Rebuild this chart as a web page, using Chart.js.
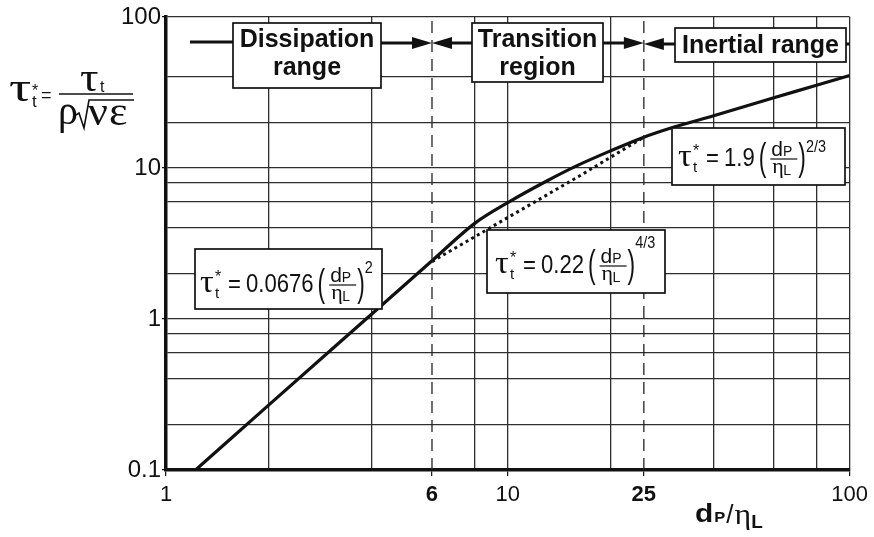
<!DOCTYPE html>
<html>
<head>
<meta charset="utf-8">
<script src="https://cdn.jsdelivr.net/npm/chart.js@4.4.0/dist/chart.umd.min.js"></script>
<style>
  html, body { margin: 0; padding: 0; background: #fff; }
</style>
</head>
<body>
<canvas id="chart" width="874" height="537"></canvas>
<script>
// values
const curveX = [1.22, 2, 4, 6, 8, 10, 13, 16, 20, 25, 30, 40, 60, 80, 100];
const curveY = [0.1, 0.27, 1.08, 2.43, 4.3, 5.9, 8.2, 10.4, 13.0, 16.0, 18.4, 22.2, 29.2, 35.3, 41];
const dotX = [6, 10, 16, 25];
const dotY = [2.4, 4.7, 8.7, 16.0];
const boundX = [6, 25];          // dashed range limits
const xTicks = [1, 2, 4, 6, 8, 10, 20, 25, 40, 60, 80, 100];
const xLabels = { 1: '1', 6: '6', 10: '10', 25: '25', 100: '100' };
const yTicks = [0.1, 0.2, 0.4, 0.6, 0.8, 1, 2, 4, 6, 8, 10, 20, 40, 100];
const yLabels = { 0.1: '0.1', 1: '1', 10: '10', 100: '100' };

const INK = '#111';
const GRID = '#2e2e2e';
const SANS = '"Liberation Sans", Arial, sans-serif';
const SERIF = '"Liberation Serif", "Times New Roman", serif';

function pts(xs, ys) {
    return xs.map((x, i) => ({ x: x, y: ys[i] }));
}

// text with optional horizontal squeeze, returns advance width
function put(ctx, s, x, y, font, sx) {
    sx = sx || 1;
    ctx.save();
    ctx.font = font;
    ctx.textAlign = 'left';
    ctx.translate(x, y);
    ctx.scale(sx, 1);
    ctx.fillText(s, 0, 0);
    const w = ctx.measureText(s).width * sx;
    ctx.restore();
    return w;
}

function box(ctx, x, y, w, h) {
    ctx.save();
    ctx.fillStyle = '#fff';
    ctx.fillRect(x, y, w, h);
    ctx.lineWidth = 1.7;
    ctx.strokeStyle = INK;
    ctx.strokeRect(x, y, w, h);
    ctx.restore();
}

function hline(ctx, x1, x2, y) {
    ctx.beginPath();
    ctx.moveTo(x1, y);
    ctx.lineTo(x2, y);
    ctx.stroke();
}

function arrow(ctx, x1, tip, y) {
    const dir = Math.sign(tip - x1);
    hline(ctx, x1, tip - dir * 15, y);
    ctx.beginPath();
    ctx.moveTo(tip, y);
    ctx.lineTo(tip - dir * 20, y - 6);
    ctx.lineTo(tip - dir * 20, y + 6);
    ctx.closePath();
    ctx.fill();
}

// tau*_t = coef (dP/etaL)^exp
function formula(ctx, x0, base, coef, exp, expUp) {
    put(ctx, 'τ', x0, base, '31px ' + SERIF, 1.1);
    put(ctx, '*', x0 + 15, base - 10, '16px ' + SANS);
    put(ctx, 't', x0 + 15, base + 6, '15px ' + SANS);
    put(ctx, '=', x0 + 28, base, '26px ' + SANS, 0.85);
    let cx = x0 + 46;
    cx += put(ctx, coef, cx, base, '26px ' + SANS, 0.85) + 4;
    const bar = base - 7;
    cx += put(ctx, '(', cx, bar + 11, '38px ' + SANS, 0.6) + 1;
    // fraction
    ctx.save();
    ctx.font = '21px ' + SANS;
    const wd = ctx.measureText('d').width;
    ctx.restore();
    const fw = 30;
    put(ctx, 'd', cx + 4, bar - 3, '21px ' + SANS);
    put(ctx, 'P', cx + 4 + wd, bar - 3, '14px ' + SANS);
    put(ctx, 'η', cx + 5, bar + 14, '22px ' + SERIF);
    put(ctx, 'L', cx + 16, bar + 16, '14px ' + SANS);
    ctx.save();
    ctx.lineWidth = 1.2;
    hline(ctx, cx + 3, cx + fw, bar);
    ctx.restore();
    cx += fw + 1;
    cx += put(ctx, ')', cx, bar + 11, '38px ' + SANS, 0.6);
    put(ctx, exp, cx, base - expUp, '16px ' + SANS, 0.9);
}

const annotations = {
    id: 'annotations',
    afterDatasetsDraw(chart) {
        const ctx = chart.ctx;
        const xs = chart.scales.x;
        const x6 = xs.getPixelForValue(boundX[0]);
        const x25 = xs.getPixelForValue(boundX[1]);
        ctx.save();
        ctx.fillStyle = INK;
        ctx.strokeStyle = INK;
        ctx.textBaseline = 'alphabetic';

        // range arrows
        ctx.lineWidth = 3;
        hline(ctx, 190, 233, 42);
        arrow(ctx, 381, x6, 43);
        arrow(ctx, 472, x6, 43);
        arrow(ctx, 603, x25, 43);
        arrow(ctx, 675, x25, 44);
        hline(ctx, 846, chart.chartArea.right, 44);

        // range boxes
        ctx.textAlign = 'center';
        ctx.font = 'bold 25px ' + SANS;
        box(ctx, 233, 23, 148, 65);
        ctx.fillStyle = INK;
        ctx.fillText('Dissipation', 307, 47);
        ctx.fillText('range', 307, 75);
        box(ctx, 472, 23, 131, 59);
        ctx.fillStyle = INK;
        ctx.fillText('Transition', 537.5, 47);
        ctx.fillText('region', 537.5, 75);
        box(ctx, 675, 28, 171, 34);
        ctx.fillStyle = INK;
        ctx.fillText('Inertial range', 760.5, 53);

        // formula boxes
        box(ctx, 195, 249, 187, 60);
        box(ctx, 487, 230, 178, 63);
        box(ctx, 672, 128, 173, 57);
        ctx.fillStyle = INK;
        formula(ctx, 200, 292, '0.0676', '2', 19);
        formula(ctx, 495, 273, '0.22', '4/3', 25);
        formula(ctx, 678, 166, '1.9', '2/3', 14);
        ctx.restore();
    },
    afterDraw(chart) {
        const ctx = chart.ctx;
        ctx.save();
        ctx.fillStyle = INK;
        ctx.strokeStyle = INK;
        ctx.textBaseline = 'alphabetic';

        // y axis title: tau*_t = tau_t / (rho sqrt(nu eps))
        put(ctx, 'τ', 9, 101, '41px ' + SERIF, 1.35);
        put(ctx, '*', 32, 96, '16px ' + SANS);
        put(ctx, 't', 32, 107, '17px ' + SANS);
        put(ctx, '=', 41, 101, '18px ' + SANS);
        ctx.lineWidth = 1.5;
        hline(ctx, 59, 133, 94);
        put(ctx, 'τ', 80, 91, '40px ' + SERIF, 1.15);
        put(ctx, 't', 100, 92, '16px ' + SANS);
        put(ctx, 'ρ', 58, 124, '40px ' + SERIF);
        ctx.lineWidth = 1.6;
        ctx.beginPath();
        ctx.moveTo(76, 115);
        ctx.lineTo(79, 113);
        ctx.lineTo(84, 128);
        ctx.lineTo(89, 100);
        ctx.lineTo(134, 100);
        ctx.stroke();
        put(ctx, 'ν', 88, 125, '40px ' + SERIF, 1.1);
        put(ctx, 'ε', 109, 125, '40px ' + SERIF, 1.1);

        // x axis title: dP/etaL
        let cx = 695;
        cx += put(ctx, 'd', cx, 522, 'bold 26px ' + SANS, 1.15) + 1;
        cx += put(ctx, 'P', cx, 522, 'bold 15px ' + SANS, 1.1) + 1;
        cx += put(ctx, '/', cx, 523, '26px ' + SANS);
        cx += put(ctx, 'η', cx + 1, 524, '29px ' + SERIF, 1.1) + 1;
        put(ctx, 'L', cx, 528, 'bold 19px ' + SANS);
        ctx.restore();
    }
};

const ctx = document.getElementById('chart').getContext('2d');

const boundSets = boundX.map(v => ({
    data: pts([v, v], [0.1, 100]),
    borderColor: '#222',
    borderWidth: 1.3,
    borderDash: [12, 7],
    pointRadius: 0
}));

new Chart(ctx, {
    type: 'line',
    data: {
        datasets: [
            ...boundSets,
            {
                data: pts(dotX, dotY),
                borderColor: INK,
                borderWidth: 3,
                borderDash: [3, 3.5],
                borderCapStyle: 'butt',
                pointRadius: 0
            },
            {
                data: pts(curveX, curveY),
                borderColor: INK,
                borderWidth: 3.2,
                cubicInterpolationMode: 'monotone',
                pointRadius: 0
            }
        ]
    },
    options: {
        responsive: false,
        animation: false,
        layout: { padding: { left: 0, right: 21, top: 17, bottom: 0 } },
        plugins: {
            legend: { display: false },
            tooltip: { enabled: false }
        },
        scales: {
            x: {
                type: 'logarithmic',
                min: 1,
                max: 100,
                afterBuildTicks: s => { s.ticks = xTicks.map(v => ({ value: v })); },
                afterFit: s => { s.height = 67; },
                ticks: {
                    autoSkip: false,
                    maxRotation: 0,
                    padding: 6,
                    color: INK,
                    callback: v => xLabels[v] || '',
                    font: c => ({
                        family: SANS,
                        size: 22,
                        weight: (c.tick && boundX.includes(c.tick.value)) ? 'bold' : 'normal'
                    })
                },
                grid: {
                    color: c => {
                        const v = c.tick ? c.tick.value : null;
                        if (v === 1 || boundX.includes(v)) return 'rgba(0,0,0,0)';
                        return GRID;
                    },
                    lineWidth: 1.3,
                    tickLength: 6,
                    tickWidth: 1.2,
                    tickColor: c => (c.tick && xLabels[c.tick.value]) ? INK : 'rgba(0,0,0,0)'
                },
                border: { color: INK, width: 3.5 }
            },
            y: {
                type: 'logarithmic',
                min: 0.1,
                max: 100,
                afterBuildTicks: s => { s.ticks = yTicks.map(v => ({ value: v })); },
                afterFit: s => { s.width = 166; },
                ticks: {
                    autoSkip: false,
                    padding: 1,
                    color: INK,
                    callback: v => yLabels[v] || '',
                    font: { family: SANS, size: 24 }
                },
                grid: {
                    color: c => (c.tick && c.tick.value === 0.1) ? 'rgba(0,0,0,0)' : GRID,
                    lineWidth: 1.3,
                    tickLength: 4,
                    tickWidth: 1.2,
                    tickColor: c => (c.tick && yLabels[c.tick.value]) ? INK : 'rgba(0,0,0,0)'
                },
                border: { color: INK, width: 3.5 }
            }
        }
    },
    plugins: [annotations]
});
</script>
</body>
</html>
